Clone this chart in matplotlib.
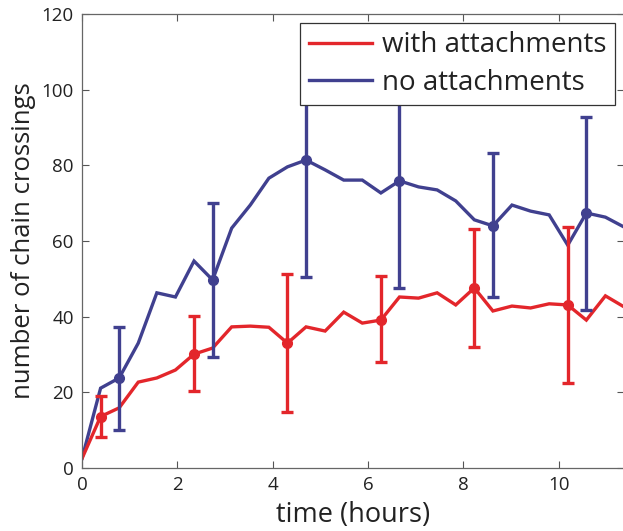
import matplotlib
matplotlib.use("Agg")
import matplotlib.pyplot as plt
from matplotlib.lines import Line2D

# sampling times (hours)
t = [0.00, 0.39, 0.78, 1.18, 1.57, 1.96, 2.35, 2.74, 3.14, 3.53,
     3.92, 4.31, 4.70, 5.10, 5.49, 5.88, 6.27, 6.66, 7.06, 7.45,
     7.84, 8.23, 8.62, 9.02, 9.41, 9.80, 10.19, 10.58, 10.98, 11.37]

# mean number of chain crossings
with_att = [2.5, 13.6, 15.9, 22.7, 23.8, 25.9, 30.1, 31.7, 37.3, 37.5,
            37.2, 33.0, 37.3, 36.2, 41.2, 38.3, 39.1, 45.2, 44.9, 46.3,
            43.1, 47.6, 41.5, 42.8, 42.3, 43.4, 43.1, 39.1, 45.5, 42.6]
no_att = [2.5, 21.1, 23.8, 33.0, 46.3, 45.2, 54.7, 49.7, 63.4, 69.5,
          76.6, 79.6, 81.4, 78.8, 76.1, 76.1, 72.7, 75.9, 74.3, 73.5,
          70.6, 65.6, 64.0, 69.5, 67.9, 66.9, 58.9, 67.4, 66.3, 63.7]

# samples carrying error bars, with lower / upper bar ends
with_idx = [1, 6, 11, 16, 21, 26]
with_lo = [8.2, 20.4, 14.8, 28.1, 32.0, 22.5]
with_hi = [19.0, 40.3, 51.3, 50.8, 63.2, 63.7]
no_idx = [2, 7, 12, 17, 22, 27]
no_lo = [10.0, 29.4, 50.5, 47.6, 45.2, 41.8]
no_hi = [37.3, 70.0, 112.3, 104.2, 83.3, 92.8]

labels = ["with attachments", "no attachments"]
RED = "#e3262b"
BLUE = "#40408f"

plt.rcParams["font.family"] = ["Open Sans", "DejaVu Sans"]

fig = plt.figure(figsize=(6.23, 5.31), dpi=100)
ax = fig.add_axes([82 / 623, 63 / 531, 542 / 623, 454 / 531])


def draw(vals, idx, lo, hi, color):
    ax.plot(t, vals, color=color, lw=2.4, solid_joinstyle="miter", zorder=2)
    xs = [t[i] for i in idx]
    ys = [vals[i] for i in idx]
    err = [[y - l for y, l in zip(ys, lo)], [h - y for y, h in zip(ys, hi)]]
    ax.errorbar(xs, ys, yerr=err, fmt="o", color=color, ms=7, elinewidth=2.4,
                capsize=4.5, capthick=2.4, zorder=3)


draw(no_att, no_idx, no_lo, no_hi, BLUE)
draw(with_att, with_idx, with_lo, with_hi, RED)

ax.set_xlim(0, 11.37)
ax.set_ylim(0, 120)
ax.set_xticks([0, 2, 4, 6, 8, 10])
ax.set_yticks([0, 20, 40, 60, 80, 100, 120])
ax.tick_params(direction="in", top=True, right=True, length=5, width=0.8,
               color="#555555", labelsize=13.5, labelcolor="#222222", pad=6)
for s in ax.spines.values():
    s.set_color("#666666")
    s.set_linewidth(0.9)

ax.set_xlabel("time (hours)", fontsize=19.5, color="#222222", labelpad=5)
ax.set_ylabel("number of chain crossings", fontsize=18.5, color="#222222", labelpad=4)

handles = [Line2D([], [], color=RED, lw=2.4), Line2D([], [], color=BLUE, lw=2.4)]
leg = ax.legend(handles, labels, loc="upper right",
                bbox_to_anchor=(1 - 9 / 542, 1 - 9 / 454),
                fontsize=20, frameon=True, fancybox=False, framealpha=1,
                facecolor="white", edgecolor="#333333",
                handlelength=2.3, handletextpad=0.35, borderpad=0.3,
                labelspacing=0.34, borderaxespad=0)
leg.get_frame().set_linewidth(0.9)
for txt in leg.get_texts():
    txt.set_color("#222222")
leg.set_zorder(5)

fig.savefig("out.png", dpi=100)
